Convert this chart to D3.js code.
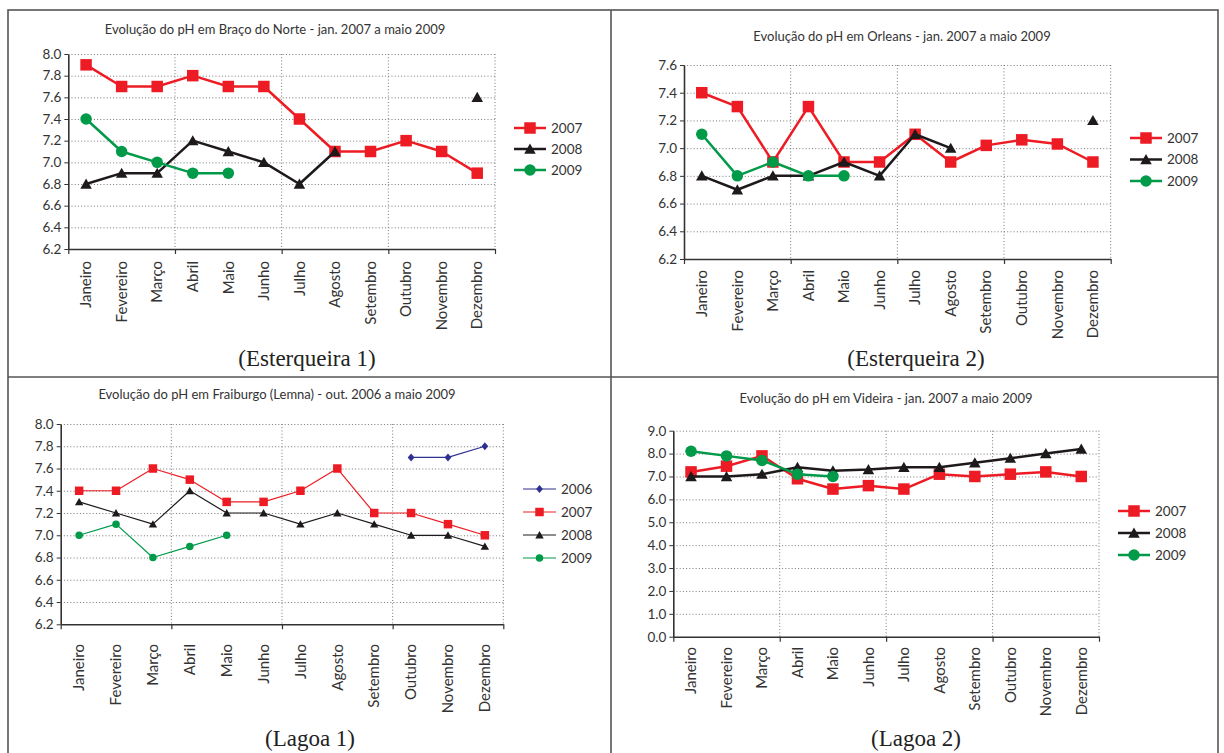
<!DOCTYPE html>
<html>
<head>
<meta charset="utf-8">
<script src="https://cdn.jsdelivr.net/npm/d3@7"></script>
<style>
  body { margin: 0; background: #fff; }
  svg text { font-family: Lato, "Open Sans", sans-serif; }
</style>
</head>
<body>
<svg id="chart" width="1224" height="753"></svg>
<script>
// ---- Categories ----
const months = ["Janeiro", "Fevereiro", "Março", "Abril", "Maio", "Junho",
                "Julho", "Agosto", "Setembro", "Outubro", "Novembro", "Dezembro"];

// ---- Esterqueira 1: Braço do Norte ----
const bracoTitle = "Evolução do pH em Braço do Norte - jan. 2007 a maio 2009";
const bracoTicks = [6.2, 6.4, 6.6, 6.8, 7.0, 7.2, 7.4, 7.6, 7.8, 8.0];
const braco2007 = [7.9, 7.7, 7.7, 7.8, 7.7, 7.7, 7.4, 7.1, 7.1, 7.2, 7.1, 6.9];
const braco2008 = [6.8, 6.9, 6.9, 7.2, 7.1, 7.0, 6.8, 7.1, null, null, null, 7.6];
const braco2009 = [7.4, 7.1, 7.0, 6.9, 6.9, null, null, null, null, null, null, null];

// ---- Esterqueira 2: Orleans ----
const orleansTitle = "Evolução do pH em Orleans - jan. 2007 a maio 2009";
const orleansTicks = [6.2, 6.4, 6.6, 6.8, 7.0, 7.2, 7.4, 7.6];
const orleans2007 = [7.4, 7.3, 6.9, 7.3, 6.9, 6.9, 7.1, 6.9, 7.02, 7.06, 7.03, 6.9];
const orleans2008 = [6.8, 6.7, 6.8, 6.8, 6.9, 6.8, 7.1, 7.0, null, null, null, 7.2];
const orleans2009 = [7.1, 6.8, 6.9, 6.8, 6.8, null, null, null, null, null, null, null];

// ---- Lagoa 1: Fraiburgo (Lemna) ----
const fraiburgoTitle = "Evolução do pH em Fraiburgo (Lemna) - out. 2006 a maio 2009";
const fraiburgoTicks = [6.2, 6.4, 6.6, 6.8, 7.0, 7.2, 7.4, 7.6, 7.8, 8.0];
const fraiburgo2006 = [null, null, null, null, null, null, null, null, null, 7.7, 7.7, 7.8];
const fraiburgo2007 = [7.4, 7.4, 7.6, 7.5, 7.3, 7.3, 7.4, 7.6, 7.2, 7.2, 7.1, 7.0];
const fraiburgo2008 = [7.3, 7.2, 7.1, 7.4, 7.2, 7.2, 7.1, 7.2, 7.1, 7.0, 7.0, 6.9];
const fraiburgo2009 = [7.0, 7.1, 6.8, 6.9, 7.0, null, null, null, null, null, null, null];

// ---- Lagoa 2: Videira ----
const videiraTitle = "Evolução do pH em Videira - jan. 2007 a maio 2009";
const videiraTicks = [0, 1, 2, 3, 4, 5, 6, 7, 8, 9];
const videira2007 = [7.2, 7.45, 7.9, 6.9, 6.45, 6.6, 6.45, 7.1, 7.0, 7.1, 7.2, 7.0];
const videira2008 = [7.0, 7.0, 7.1, 7.4, 7.25, 7.3, 7.4, 7.4, 7.6, 7.8, 8.0, 8.2];
const videira2009 = [8.1, 7.9, 7.7, 7.1, 7.0, null, null, null, null, null, null, null];

// ---- Styles ----
const RED = "#ED1C24", BLACK = "#1E1A1B", GREEN = "#009A49", NAVY = "#2E3192";

const svg = d3.select("#chart");

// Frame and dividers between the four panels
const frame = svg.append("g").attr("fill", "none").attr("stroke", "#555").attr("stroke-width", 1.6);
frame.append("rect").attr("x", 8).attr("y", 10).attr("width", 1210).attr("height", 760);
frame.append("line").attr("x1", 611).attr("x2", 611).attr("y1", 10).attr("y2", 753);
frame.append("line").attr("x1", 8).attr("x2", 1218).attr("y1", 377).attr("y2", 377);

function markerPath(shape, s) {
  const h = s / 2;
  if (shape === "square") return `M${-h},${-h}h${s}v${s}h${-s}Z`;
  if (shape === "triangle") return `M0,${-h}L${h * 1.05},${h * 0.85}L${-h * 1.05},${h * 0.85}Z`;
  if (shape === "diamond") return `M0,${-h}L${h * 0.85},0L0,${h}L${-h * 0.85},0Z`;
  return d3.symbol(d3.symbolCircle, Math.PI * h * h)();
}

function drawPanel(p) {
  const g = svg.append("g");
  const x = d3.scaleBand().domain(months).range([p.left, p.right]);
  const cx = m => x(m) + x.bandwidth() / 2;
  const y = d3.scaleLinear().domain([p.ticks[0], p.ticks[p.ticks.length - 1]]).range([p.bottom, p.top]);
  const quarter = d3.scaleLinear().domain([0, 12]).range([p.left, p.right]);

  // dotted grid
  const grid = g.append("g").attr("stroke", "#777").attr("stroke-width", 1)
    .attr("stroke-dasharray", "1,2.2").attr("fill", "none");
  grid.selectAll("line.h").data(p.ticks.slice(1)).join("line").attr("class", "h")
    .attr("x1", p.left).attr("x2", p.right).attr("y1", d => y(d) + 0.5).attr("y2", d => y(d) + 0.5);
  grid.selectAll("line.v").data([3, 6, 9, 12]).join("line").attr("class", "v")
    .attr("x1", d => quarter(d)).attr("x2", d => quarter(d)).attr("y1", p.top).attr("y2", p.bottom);

  // y axis
  const yAxis = g.append("g").attr("transform", `translate(${p.left},0)`)
    .call(d3.axisLeft(y).tickValues(p.ticks).tickFormat(d3.format(".1f")).tickSize(4).tickSizeOuter(0).tickPadding(3));
  yAxis.select(".domain").attr("stroke", "#333").attr("stroke-width", 1.6);
  yAxis.selectAll(".tick line").attr("stroke", "#333");
  yAxis.selectAll("text").attr("font-size", 13.5).attr("fill", "#333").attr("font-family", "Lato, sans-serif");

  // x axis with ticks at the quarter boundaries
  const xAxis = g.append("g").attr("transform", `translate(0,${p.bottom})`)
    .call(d3.axisBottom(quarter).tickValues([0, 3, 6, 9, 12]).tickFormat("").tickSize(5).tickSizeOuter(0));
  xAxis.select(".domain").attr("stroke", "#333").attr("stroke-width", 1.6);
  xAxis.selectAll(".tick line").attr("stroke", "#333").attr("stroke-width", 1.2);

  // month labels, rotated
  g.append("g").selectAll("text").data(months).join("text")
    .attr("transform", m => `translate(${cx(m)},${p.labelTop}) rotate(-90)`)
    .attr("text-anchor", "end").attr("dy", "0.35em")
    .attr("font-size", 15).attr("fill", "#333").text(m => m);

  // series
  const line = d3.line().defined(v => v != null).x((v, i) => cx(months[i])).y(v => y(v));
  p.series.forEach(s => {
    g.append("path").attr("d", line(s.values)).attr("fill", "none")
      .attr("stroke", s.color).attr("stroke-width", p.lineWidth).attr("stroke-linejoin", "round");
    g.append("g").selectAll("path")
      .data(s.values.map((v, i) => ({ v, i })).filter(d => d.v != null))
      .join("path")
      .attr("transform", d => `translate(${cx(months[d.i])},${y(d.v)})`)
      .attr("d", markerPath(s.shape, s.size)).attr("fill", s.color);
  });

  // legend
  const leg = g.append("g");
  p.series.forEach((s, i) => {
    const ly = p.legend.y + i * p.legend.step;
    leg.append("line").attr("x1", p.legend.x).attr("x2", p.legend.x + p.legend.len)
      .attr("y1", ly).attr("y2", ly).attr("stroke", s.color).attr("stroke-width", p.lineWidth);
    leg.append("path").attr("transform", `translate(${p.legend.x + p.legend.len / 2},${ly})`)
      .attr("d", markerPath(s.shape, s.size)).attr("fill", s.color);
    leg.append("text").attr("x", p.legend.x + p.legend.len + 5).attr("y", ly).attr("dy", "0.35em")
      .attr("font-size", 13.5).attr("fill", "#333").text(s.name);
  });

  // title and caption
  g.append("text").attr("x", p.titleX).attr("y", p.titleY).attr("text-anchor", "middle")
    .attr("font-size", 13).attr("fill", "#333").text(p.title);
  g.append("text").attr("x", p.captionX).attr("y", p.captionY).attr("text-anchor", "middle")
    .style("font-family", "'Liberation Serif', serif")
    .attr("font-size", 23).attr("fill", "#222").text(p.caption);
}

// Esterqueira 1
drawPanel({
  left: 68.3, right: 495, top: 54, bottom: 249, ticks: bracoTicks, labelTop: 261,
  lineWidth: 2.5,
  series: [
    { name: "2007", values: braco2007, color: RED, shape: "square", size: 11.5 },
    { name: "2008", values: braco2008, color: BLACK, shape: "triangle", size: 11 },
    { name: "2009", values: braco2009, color: GREEN, shape: "circle", size: 11.5 }
  ],
  legend: { x: 514, y: 128, step: 21, len: 32 },
  title: bracoTitle, titleX: 275, titleY: 34,
  caption: "(Esterqueira 1)", captionX: 307, captionY: 366
});

// Esterqueira 2
drawPanel({
  left: 684, right: 1110.7, top: 65, bottom: 259, ticks: orleansTicks, labelTop: 270,
  lineWidth: 2.5,
  series: [
    { name: "2007", values: orleans2007, color: RED, shape: "square", size: 11.5 },
    { name: "2008", values: orleans2008, color: BLACK, shape: "triangle", size: 11 },
    { name: "2009", values: orleans2009, color: GREEN, shape: "circle", size: 11.5 }
  ],
  legend: { x: 1130, y: 138, step: 21.5, len: 32 },
  title: orleansTitle, titleX: 902, titleY: 41,
  caption: "(Esterqueira 2)", captionX: 916, captionY: 366
});

// Lagoa 1
drawPanel({
  left: 60.7, right: 503.3, top: 424, bottom: 624.3, ticks: fraiburgoTicks, labelTop: 644,
  lineWidth: 1.2,
  series: [
    { name: "2006", values: fraiburgo2006, color: NAVY, shape: "diamond", size: 8 },
    { name: "2007", values: fraiburgo2007, color: RED, shape: "square", size: 8.5 },
    { name: "2008", values: fraiburgo2008, color: BLACK, shape: "triangle", size: 8 },
    { name: "2009", values: fraiburgo2009, color: GREEN, shape: "circle", size: 7.5 }
  ],
  legend: { x: 523, y: 489, step: 23, len: 33 },
  title: fraiburgoTitle, titleX: 277, titleY: 399,
  caption: "(Lagoa 1)", captionX: 310, captionY: 746
});

// Lagoa 2
drawPanel({
  left: 673.3, right: 1099, top: 430.7, bottom: 636.7, ticks: videiraTicks, labelTop: 647,
  lineWidth: 2.5,
  series: [
    { name: "2007", values: videira2007, color: RED, shape: "square", size: 11.5 },
    { name: "2008", values: videira2008, color: BLACK, shape: "triangle", size: 11 },
    { name: "2009", values: videira2009, color: GREEN, shape: "circle", size: 11.5 }
  ],
  legend: { x: 1118, y: 511, step: 22, len: 32 },
  title: videiraTitle, titleX: 886, titleY: 403,
  caption: "(Lagoa 2)", captionX: 916, captionY: 746
});
</script>
</body>
</html>
